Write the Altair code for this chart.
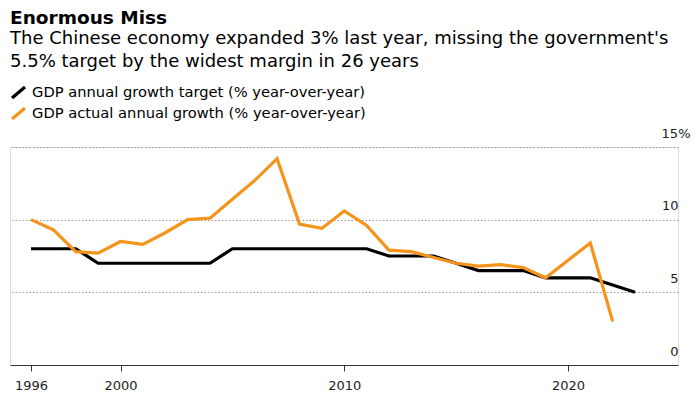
import altair as alt
import pandas as pd

# ---- data ----
years_target = list(range(1996, 2024))
target = [8, 8, 8, 7, 7, 7, 7, 7, 7, 8, 8, 8, 8, 8, 8, 8, 7.5, 7.5, 7.5, 7,
          6.5, 6.5, 6.5, 6, 6, 6, 5.5, 5]
years_actual = list(range(1996, 2020)) + [2021, 2022]
actual = [10.0, 9.3, 7.8, 7.7, 8.5, 8.3, 9.1, 10.0, 10.1, 11.4, 12.7, 14.2,
          9.7, 9.4, 10.6, 9.6, 7.9, 7.8, 7.4, 7.0, 6.8, 6.9, 6.7, 6.0, 8.4, 3.0]
series_names = ["GDP annual growth target (% year-over-year)",
                "GDP actual annual growth (% year-over-year)"]
series_colors = ["#000000", "#F5941D"]
x_ticks = [1996, 2000, 2010, 2020]
y_ticks = [0, 5, 10, 15]
title_text = "Enormous Miss"
subtitle_lines = ["The Chinese economy expanded 3% last year, missing the government's",
                  "5.5% target by the widest margin in 26 years"]

df_t = pd.DataFrame({"year": years_target, "value": target, "series": series_names[0]})
df_a = pd.DataFrame({"year": years_actual, "value": actual, "series": series_names[1]})

FONT = "DejaVu Sans"

x = alt.X("year:Q",
          scale=alt.Scale(domain=[1995.06, 2024.92], nice=False, zero=False),
          axis=alt.Axis(values=x_ticks, format="d", title=None, grid=False,
                        tickSize=6, tickColor="#333333", domainColor="#333333",
                        labelPadding=8, labelFontSize=13, labelFont=FONT,
                        labelColor="#222222"))
y = alt.Y("value:Q",
          scale=alt.Scale(domain=[0, 15], nice=False, zero=True),
          axis=alt.Axis(orient="right", values=y_ticks, title=None, domain=False,
                        ticks=False, tickSize=0, labelAlign="right",
                        labelBaseline="alphabetic", labelOffset=-10,
                        labelPadding={"condition": {"test": "datum.value == 15", "value": 12}, "value": 0},
                        labelExpr="datum.value == 15 ? '15%' : datum.label",
                        labelFont=FONT, labelFontSize=13, labelColor="#222222",
                        grid=True, gridDash=[1.5, 2], gridColor="#9a9a9a",
                        gridOpacity={"condition": {"test": "datum.value == 0", "value": 0}, "value": 1}))
color = alt.Color("series:N",
                  scale=alt.Scale(domain=series_names, range=series_colors),
                  legend=alt.Legend(orient="none", legendX=0, legendY=-63,
                                    direction="vertical", title=None,
                                    symbolType="M-1,0.85L1,-0.85", symbolSize=169,
                                    symbolStrokeWidth=3.2, labelFont=FONT,
                                    labelFontSize=14.7, labelColor="black",
                                    labelOffset=5, rowPadding=-4.5, padding=0,
                                    labelLimit=0))

black = alt.Chart(df_t).mark_line(strokeWidth=3.2).encode(x=x, y=y, color=color)
orange = alt.Chart(df_a).mark_line(strokeWidth=3.2).encode(x=x, y=y, color=color)

chart = alt.layer(black, orange).properties(
    width=668, height=218,
    padding={"left": 2, "top": 139, "right": 14, "bottom": 28},
    autosize=alt.AutoSizeParams(type="none"),
    title=alt.TitleParams(text=title_text, subtitle=subtitle_lines, anchor="start",
                          frame="group", font=FONT, fontSize=18.5, fontWeight="bold",
                          color="black", subtitleFont=FONT, subtitleFontSize=18,
                          subtitleColor="black", subtitleLineHeight=23,
                          subtitlePadding=2.5, offset=13.5),
).configure_view(stroke=None).configure(background="white")

chart.save("out.html", embed_options={"renderer": "svg", "actions": False})
